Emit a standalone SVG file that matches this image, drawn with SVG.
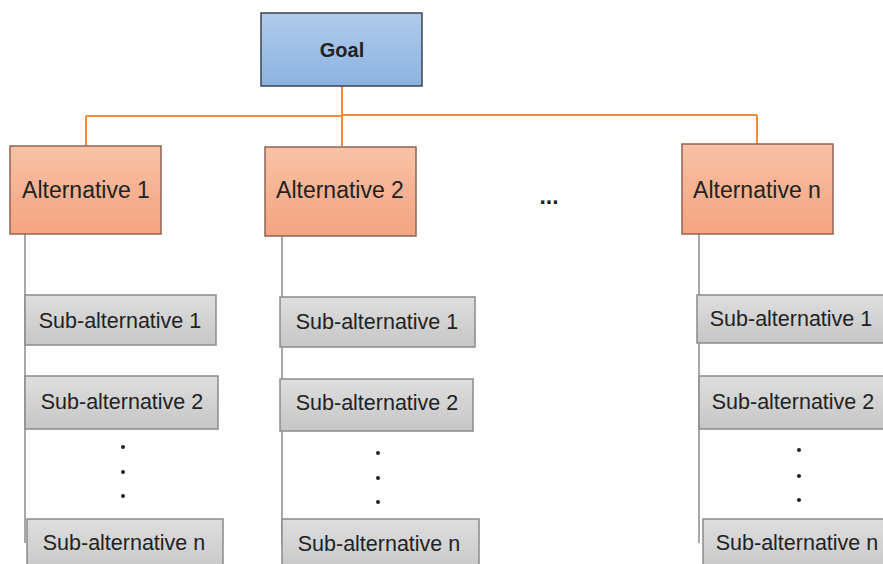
<svg xmlns="http://www.w3.org/2000/svg" width="883" height="564" viewBox="0 0 883 564">
<defs>
<linearGradient id="gBlue" x1="0" y1="0" x2="0" y2="1"><stop offset="0" stop-color="#b0cbeb"/><stop offset="1" stop-color="#8cb3e1"/></linearGradient>
<linearGradient id="gOrange" x1="0" y1="0" x2="0" y2="1"><stop offset="0" stop-color="#f8c2a6"/><stop offset="1" stop-color="#f4a37f"/></linearGradient>
<linearGradient id="gGrey" x1="0" y1="0" x2="0" y2="1"><stop offset="0" stop-color="#dedede"/><stop offset="1" stop-color="#c6c6c6"/></linearGradient>
</defs>
<style>
text{font-family:"Liberation Sans",Arial,sans-serif;font-size:23px;fill:#222;text-anchor:middle}
.goal{fill:url(#gBlue);stroke:#3c4652;stroke-width:1.5}
.alt{fill:url(#gOrange);stroke:#8c6456;stroke-width:1.5}
.sub{fill:url(#gGrey);stroke:#8a8a8a;stroke-width:1.5}
.sub-t{font-size:21.5px}
.or{stroke:#f28b3f;stroke-width:2;fill:none}
.gr{stroke:#a8a8a8;stroke-width:2;fill:none}
.dot{fill:#222}
</style>
<g id="connectors">
<line class="or" x1="342" y1="86" x2="342" y2="146"/>
<line class="or" x1="86" y1="116" x2="342" y2="116"/>
<line class="or" x1="342" y1="115" x2="757" y2="115"/>
<line class="or" x1="86" y1="116" x2="86" y2="146"/>
<line class="or" x1="757" y1="115" x2="757" y2="144"/>
<line class="gr" x1="25" y1="234" x2="25" y2="543"/>
<line class="gr" x1="282" y1="236" x2="282" y2="545"/>
<line class="gr" x1="699" y1="234" x2="699" y2="543"/>
</g>
<g id="goal"><rect class="goal" x="261" y="13" width="161" height="73"/><text x="342" y="57" font-weight="bold" style="font-size:20px">Goal</text></g>
<g id="alt1"><rect class="alt" x="10" y="146" width="151" height="88"/><text x="86" y="198">Alternative 1</text></g>
<g id="alt2"><rect class="alt" x="265" y="147" width="151" height="89"/><text x="340" y="198">Alternative 2</text></g>
<g id="altn"><rect class="alt" x="682" y="144" width="151" height="90"/><text x="757" y="198">Alternative n</text></g>
<g id="ellipsis"><text x="549" y="204" font-weight="bold">...</text></g>
<g id="a1s1"><rect class="sub" x="25" y="295" width="191" height="50"/><text class="sub-t" x="120" y="328">Sub-alternative 1</text></g>
<g id="a1s2"><rect class="sub" x="25" y="376" width="193" height="53"/><text class="sub-t" x="122" y="409">Sub-alternative 2</text></g>
<g id="a1dots"><circle class="dot" cx="123" cy="447" r="2"/><circle class="dot" cx="123" cy="472" r="2"/><circle class="dot" cx="123" cy="496" r="2"/></g>
<g id="a1sn"><rect class="sub" x="27" y="519" width="196" height="55"/><text class="sub-t" x="124" y="550">Sub-alternative n</text></g>
<g id="a2s1"><rect class="sub" x="280" y="297" width="195" height="50"/><text class="sub-t" x="377" y="329">Sub-alternative 1</text></g>
<g id="a2s2"><rect class="sub" x="280" y="379" width="193" height="52"/><text class="sub-t" x="377" y="410">Sub-alternative 2</text></g>
<g id="a2dots"><circle class="dot" cx="378" cy="453" r="2"/><circle class="dot" cx="378" cy="478" r="2"/><circle class="dot" cx="378" cy="502" r="2"/></g>
<g id="a2sn"><rect class="sub" x="282" y="519" width="197" height="55"/><text class="sub-t" x="379" y="551">Sub-alternative n</text></g>
<g id="ans1"><rect class="sub" x="697" y="295" width="200" height="48"/><text class="sub-t" x="791" y="326">Sub-alternative 1</text></g>
<g id="ans2"><rect class="sub" x="699" y="376" width="200" height="53"/><text class="sub-t" x="793" y="409">Sub-alternative 2</text></g>
<g id="andots"><circle class="dot" cx="799" cy="450" r="2"/><circle class="dot" cx="799" cy="476" r="2"/><circle class="dot" cx="799" cy="500" r="2"/></g>
<g id="ansn"><rect class="sub" x="703" y="519" width="200" height="55"/><text class="sub-t" x="797" y="550">Sub-alternative n</text></g>
</svg>
